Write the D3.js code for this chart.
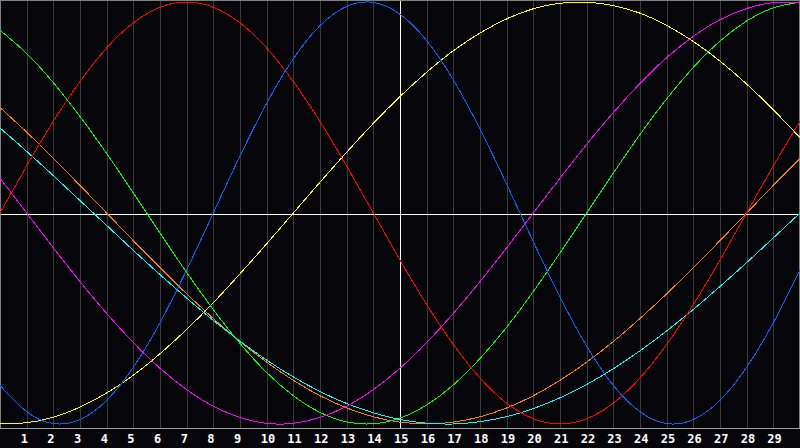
<!DOCTYPE html>
<html>
<head>
<meta charset="utf-8">
<script src="https://cdn.jsdelivr.net/npm/d3@7"></script>
<style>
  html, body { margin: 0; padding: 0; background: #060509; }
  svg { display: block; }
</style>
</head>
<body>
<div class="chart"></div>
<script>
// day index 0..30 across the month
const days = d3.range(0, 31);
const tickDays = d3.range(1, 30);
const markedDay = 15;

// values, in percent (-100..100)
const physical = [-81.7, -94.2, -99.8, -97.9, -88.8, -73.1, -52.0, -27.0, 0, 27.0, 52.0, 73.1, 88.8, 97.9, 99.8, 94.2, 81.7, 63.1, 39.8, 13.6, -13.6, -39.8, -63.1, -81.7, -94.2, -99.8, -97.9, -88.8, -73.1, -52.0, -27.0];
const emotional = [0, 22.3, 43.4, 62.3, 78.2, 90.1, 97.5, 100, 97.5, 90.1, 78.2, 62.3, 43.4, 22.3, 0, -22.3, -43.4, -62.3, -78.2, -90.1, -97.5, -100, -97.5, -90.1, -78.2, -62.3, -43.4, -22.3, 0, 22.3, 43.4];
const intellectual = [86.6, 75.6, 61.8, 45.8, 28.2, 9.5, -9.5, -28.2, -45.8, -61.8, -75.6, -86.6, -94.5, -99.0, -99.9, -97.2, -91.0, -81.5, -69.0, -54.1, -37.2, -18.9, 0, 18.9, 37.2, 54.1, 69.0, 81.5, 91.0, 97.2, 99.9];
const intuitive = [16.5, 0, -16.5, -32.5, -47.6, -61.4, -73.6, -83.7, -91.6, -96.9, -99.7, -99.7, -96.9, -91.6, -83.7, -73.6, -61.4, -47.6, -32.5, -16.5, 0, 16.5, 32.5, 47.6, 61.4, 73.6, 83.7, 91.6, 96.9, 99.7, 99.7];
const aesthetic = [-99.9, -99.4, -96.8, -92.0, -85.3, -76.9, -66.7, -55.2, -42.5, -28.8, -14.6, 0, 14.6, 28.8, 42.5, 55.2, 66.7, 76.9, 85.3, 92.0, 96.8, 99.4, 99.9, 98.3, 94.7, 88.9, 81.3, 72.0, 61.1, 48.9, 35.7];
const awareness = [50, 38.3, 25.9, 13.1, 0, -13.1, -25.9, -38.3, -50, -60.9, -70.7, -79.3, -86.6, -92.4, -96.6, -99.1, -100, -99.1, -96.6, -92.4, -86.6, -79.3, -70.7, -60.9, -50, -38.3, -25.9, -13.1, 0, 13.1, 25.9];
const spiritual = [40.3, 29.2, 17.7, 5.9, -5.9, -17.7, -29.2, -40.3, -50.9, -60.7, -69.7, -77.7, -84.6, -90.3, -94.7, -97.9, -99.6, -100, -98.9, -96.5, -92.7, -87.6, -81.3, -73.8, -65.3, -55.9, -45.7, -34.8, -23.5, -11.8, 0];

const series = [
    { name: "aesthetic", values: aesthetic, color: "#ffff00" },
    { name: "awareness", values: awareness, color: "#ff8000" },
    { name: "spiritual", values: spiritual, color: "#00ffff" },
    { name: "intellectual", values: intellectual, color: "#00ff00" },
    { name: "intuitive", values: intuitive, color: "#ff00ff" },
    { name: "emotional", values: emotional, color: "#ff0000" },
    { name: "physical", values: physical, color: "#0066ff" }
];

const width = 800;
const height = 448;
const plotBottom = 428;

const x = d3.scaleLinear()
    .domain([0, 30])
    .range([0, width]);

const y = d3.scaleLinear()
    .domain([-100, 100])
    .range([424, 2]);

const svg = d3.select(".chart").append("svg")
    .attr("width", width)
    .attr("height", height);

svg.append("rect")
    .attr("width", width)
    .attr("height", height)
    .attr("fill", "#060509");

// day grid
svg.append("g")
    .attr("shape-rendering", "crispEdges")
    .selectAll("line")
    .data(tickDays)
    .join("line")
    .attr("x1", d => Math.round(x(d)) + 0.5)
    .attr("x2", d => Math.round(x(d)) + 0.5)
    .attr("y1", 0)
    .attr("y2", plotBottom)
    .attr("stroke", d => d === markedDay ? "#ffffff" : "#3a3a3a");

// zero line
svg.append("line")
    .attr("shape-rendering", "crispEdges")
    .attr("x1", 0)
    .attr("x2", width)
    .attr("y1", Math.round(y(0)) + 1.5)
    .attr("y2", Math.round(y(0)) + 1.5)
    .attr("stroke", "#ffffff");

// frame
const frame = svg.append("g")
    .attr("shape-rendering", "crispEdges")
    .attr("fill", "none");
frame.append("path")
    .attr("d", `M0.5,${plotBottom}V0.5H${width - 0.5}V${plotBottom}`)
    .attr("stroke", "#808080");
frame.append("line")
    .attr("x1", 0).attr("x2", width)
    .attr("y1", plotBottom + 0.5).attr("y2", plotBottom + 0.5)
    .attr("stroke", "#a0a0a0");

const line = d3.line()
    .x((d, i) => x(days[i]))
    .y(d => y(d))
    .curve(d3.curveNatural);

svg.append("g")
    .attr("fill", "none")
    .attr("shape-rendering", "crispEdges")
    .selectAll("path")
    .data(series)
    .join("path")
    .attr("stroke", d => d.color)
    .attr("stroke-width", 1)
    .attr("d", d => line(d.values));

// day labels
svg.append("g")
    .selectAll("text")
    .data(tickDays)
    .join("text")
    .attr("x", d => x(d) - 6)
    .attr("y", 443)
    .attr("fill", "#ffffff")
    .attr("font-family", "'DejaVu Sans Mono', monospace")
    .attr("font-weight", "bold")
    .attr("font-size", 12)
    .text(d => d);
</script>
</body>
</html>
